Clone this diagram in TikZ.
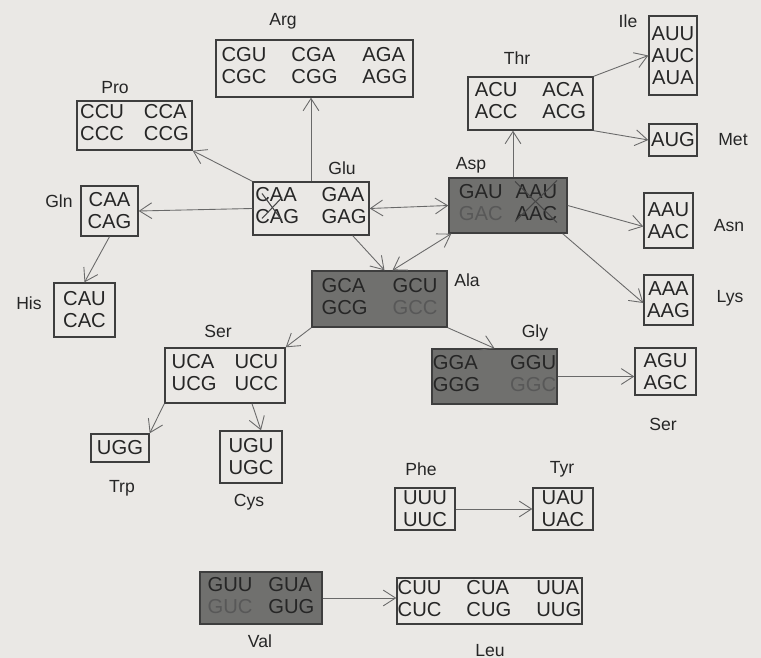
\documentclass[tikz,border=0pt]{standalone}
\usepackage{fontspec}
\setmainfont{Liberation Sans}
\usetikzlibrary{arrows.meta,calc}
\definecolor{paper}{RGB}{234,232,229}
\definecolor{ink}{RGB}{38,38,38}
\definecolor{boxline}{RGB}{62,62,62}
\definecolor{shade}{RGB}{112,112,110}
\definecolor{faint}{RGB}{88,88,88}
\definecolor{wire}{RGB}{105,105,105}
% two codon columns, optional gap between them
\newcommand{\codons}[5][0.45cm]{\begin{tabular}{@{}l@{\hspace{#1}}l@{}}#2 & #3\\ #4 & #5\end{tabular}}
\newcommand{\fnt}[1]{\textcolor{faint}{#1}}
\tikzset{
  codon/.style     = {draw=boxline, line width=0.8pt, fill=paper, text=ink,
                      inner sep=0pt, align=center,
                      font=\fontsize{11.5}{12.5}\selectfont},
  darkcodon/.style = {codon, fill=shade},
  amino/.style     = {text=ink, inner sep=0pt, font=\fontsize{10}{12}\selectfont},
  link/.style      = {draw=wire, line width=0.5pt,
                      -{Straight Barb[length=7pt,width=9pt]}},
  both/.style      = {link, {Straight Barb[length=7pt,width=9pt]}-{Straight Barb[length=7pt,width=9pt]}},
  strike/.style    = {draw=ink!85, line width=0.6pt},
}

\begin{document}
\begin{tikzpicture}[x=0.02cm, y=-0.02cm]

  \fill[paper] (0,0) rectangle (761,658);

  % codon boxes
  \node[codon, minimum width=3.94cm, minimum height=1.14cm] (arg) at (314.5,68.5)
    {\begin{tabular}{@{}l@{\hspace{0.5cm}}l@{\hspace{0.5cm}}l@{}}CGU & CGA & AGA\\ CGC & CGG & AGG\end{tabular}};
  \node[codon, minimum width=2.3cm, minimum height=0.98cm] (pro) at (134.5,125.5) {\codons[0.4cm]{CCU}{CCA}{CCC}{CCG}};
  \node[codon, minimum width=1.14cm, minimum height=1.0cm] (gln) at (109.5,211) {CAA\\CAG};
  \node[codon, minimum width=1.22cm, minimum height=1.08cm] (his) at (84.5,310) {CAU\\CAC};
  \node[codon, minimum width=2.32cm, minimum height=1.06cm] (glu) at (311,208.5) {\codons{CAA}{GAA}{CAG}{GAG}};
  \node[darkcodon, minimum width=2.36cm, minimum height=1.1cm] (asp) at (508,205.5) {\codons[0.26cm]{GAU}{AAU}{\fnt{GAC}}{AAC}};
  \node[codon, minimum width=2.5cm, minimum height=1.06cm] (thr) at (530.5,103.5) {\codons[0.5cm]{ACU}{ACA}{ACC}{ACG}};
  \node[codon, minimum width=0.96cm, minimum height=1.58cm] (ile) at (673,55.5) {AUU\\AUC\\AUA};
  \node[codon, minimum width=0.96cm, minimum height=0.64cm] (met) at (673,140) {AUG};
  \node[codon, minimum width=0.98cm, minimum height=1.1cm] (asn) at (668.5,220.5) {AAU\\AAC};
  \node[codon, minimum width=0.98cm, minimum height=1.0cm] (lys) at (668.5,300) {AAA\\AAG};
  \node[darkcodon, minimum width=2.7cm, minimum height=1.12cm] (ala) at (379.5,299) {\codons[0.5cm]{GCA}{GCU}{GCG}{\fnt{GCC}}};
  \node[darkcodon, minimum width=2.5cm, minimum height=1.1cm] (gly) at (494.5,376.5) {\codons[0.6cm]{GGA}{GGU}{GGG}{\fnt{GGC}}};
  \node[codon, minimum width=1.22cm, minimum height=0.94cm] (sertwo) at (665.5,371.5) {AGU\\AGC};
  \node[codon, minimum width=2.4cm, minimum height=1.1cm] (ser) at (225,375.5) {\codons[0.36cm]{UCA}{UCU}{UCG}{UCC}};
  \node[codon, minimum width=1.16cm, minimum height=0.56cm] (trp) at (120,448) {UGG};
  \node[codon, minimum width=1.24cm, minimum height=1.04cm] (cys) at (251,457) {UGU\\UGC};
  \node[darkcodon, minimum width=2.44cm, minimum height=1.04cm] (val) at (261,598) {\codons[0.32cm]{GUU}{GUA}{\fnt{GUC}}{GUG}};
  \node[codon, minimum width=1.2cm, minimum height=0.84cm] (phe) at (425,509) {UUU\\UUC};
  \node[codon, minimum width=1.2cm, minimum height=0.84cm] (tyr) at (563,509) {UAU\\UAC};
  \node[codon, minimum width=3.7cm, minimum height=0.92cm] (leu) at (489.5,601)
    {\begin{tabular}{@{}l@{\hspace{0.5cm}}l@{\hspace{0.5cm}}l@{}}CUU & CUA & UUA\\ CUC & CUG & UUG\end{tabular}};

  % amino acid names
  \node[amino] (argname) at (283,21) {Arg};
  \node[amino] (proname) at (115,88) {Pro};
  \node[amino] (glnname) at (59,201) {Gln};
  \node[amino] (hisname) at (29,303) {His};
  \node[amino] (gluname) at (342,168) {Glu};
  \node[amino] (aspname) at (471,165) {Asp};
  \node[amino] (thrname) at (517,58) {Thr};
  \node[amino] (ilename) at (628,21) {Ile};
  \node[amino] (metname) at (733,140) {Met};
  \node[amino] (asnname) at (729,226) {Asn};
  \node[amino] (lysname) at (730,298) {Lys};
  \node[amino] (alaname) at (467,280) {Ala};
  \node[amino] (glyname) at (535,333) {Gly};
  \node[amino] (sertwoname) at (663,424) {Ser};
  \node[amino] (sername) at (218,331) {Ser};
  \node[amino] (trpname) at (122,488) {Trp};
  \node[amino] (cysname) at (249,502) {Cys};
  \node[amino] (valname) at (260,641) {Val};
  \node[amino] (phename) at (421,469) {Phe};
  \node[amino] (tyrname) at (562,469) {Tyr};
  \node[amino] (leuname) at (490,651) {Leu};

  % crossed-out codons
  \draw[strike] ($(glu.center)+(-49,-15)$) -- ($(glu.center)+(-29,12)$);
  \draw[strike] ($(glu.center)+(-29,-11)$) -- ($(glu.center)+(-49,10)$);
  \draw[strike] ($(asp.center)+(7,-24)$) -- ($(asp.center)+(49,17)$);
  \draw[strike] ($(asp.center)+(49,-25)$) -- ($(asp.center)+(7,16)$);

  % connectors
  \coordinate (asptop) at ($(asp.north)+(5,0)$);
  \draw[link] (glu.north) -- (glu.north |- arg.south);
  \draw[link] (glu.north west) -- (pro.south east);
  \draw[link] (glu.west) -- (gln.east);
  \draw[link] (gln.south) -- (his.north);
  \draw[both] (glu.east) -- (asp.west);
  \draw[link] ($(glu.south east)+(-17,0)$) -- ($(ala.north)+(5,0)$);
  \draw[both] ($(ala.north)+(13,0)$) -- ($(asp.south west)+(3,0)$);
  \draw[link] (asptop) -- (asptop |- thr.south);
  \draw[link] (thr.north east) -- (ile.west);
  \draw[link] (thr.south east) -- (met.west);
  \draw[link] (asp.east) -- ($(asn.west)+(0,6)$);
  \draw[link] ($(asp.south east)+(-5,0)$) -- ($(lys.west)+(0,3)$);
  \draw[link] (ala.south west) -- (ser.north east);
  \draw[link] (ala.south east) -- (gly.north);
  \draw[link] (gly.east) -- (gly.east -| sertwo.west);
  \draw[link] (ser.south west) -- (trp.north east);
  \draw[link] ($(ser.south)+(27,0)$) -- ($(cys.north)+(10,0)$);
  \draw[link] (phe.east) -- (tyr.west);
  \draw[link] (val.east) -- (val.east -| leu.west);

\end{tikzpicture}
\end{document}
